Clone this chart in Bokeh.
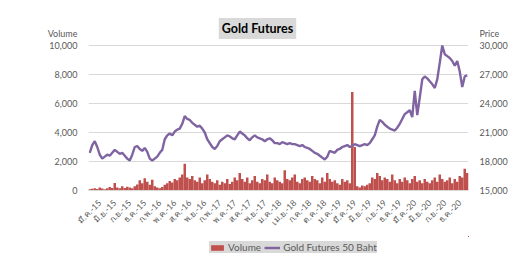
import math
from bokeh.plotting import figure
from bokeh.layouts import column
from bokeh.models import (Range1d, LinearAxis, FixedTicker, NumeralTickFormatter,
                          Legend, LegendItem, Label, ColumnDataSource)
from bokeh.embed import file_html
from bokeh.resources import INLINE

# ---------------- data ----------------
price = [
    18900, 19700, 20100, 19500, 18700, 18300, 18500, 18700, 18600, 18900,
    19200, 19000, 18800, 18900, 18600, 18300, 18100, 18700, 19500, 19600,
    19300, 19100, 19400, 19000, 18300, 18100, 18300, 18500, 18900, 19200,
    20300, 20700, 20900, 20700, 21100, 21300, 21400, 21900, 22700, 22400,
    22300, 22000, 21800, 21600, 21700, 21400, 21000, 20300, 19900, 19500,
    19300, 19600, 20100, 20300, 20500, 20700, 20600, 20400, 20300, 20700,
    21100, 20900, 20700, 20400, 20200, 20500, 20700, 20500, 20400, 20300,
    20100, 20300, 20400, 20200, 19900, 19900, 19800, 20000, 19900, 19800,
    19900, 19800, 19800, 19700, 19600, 19700, 19500, 19400, 19300, 19100,
    18900, 18800, 18600, 18400, 18200, 18500, 19100, 19000, 18900, 19200,
    19300, 19500, 19600, 19700, 19500, 19600, 19800, 19700, 19600, 19700,
    19800, 19700, 19900, 20300, 20700, 21600, 22300, 22100, 21800, 21600,
    21400, 21300, 21200, 21500, 21900, 22400, 22900, 23100, 23300, 22600,
    25300, 22800, 24600, 26500, 26800, 26600, 26300, 26000, 25600, 26500,
    28200, 30000, 29100, 28900, 28700, 28400, 27900, 28400, 27300, 25700,
    26800, 26900,
]
volume = [
    80, 120, 150, 100, 200, 130, 90, 160, 250, 180,
    520, 200, 150, 300, 180, 260, 200, 150, 300, 420,
    700, 500, 850, 600, 400, 750, 300, 200, 150, 250,
    400, 500, 650, 550, 800, 700, 900, 1100, 1850, 900,
    800, 1000, 700, 600, 900, 500, 700, 1100, 800, 600,
    500, 700, 400, 600, 500, 800, 450, 600, 900, 700,
    1200, 800, 600, 900, 500, 700, 1000, 600, 500, 800,
    700, 1100, 600, 500, 900, 700, 600, 500, 1400, 800,
    700, 900, 1100, 600, 500, 800, 900, 700, 600, 1000,
    800, 700, 500, 900, 600, 1200, 800, 600, 700, 500,
    400, 800, 600, 700, 500, 6800, 3000, 300, 200, 350,
    300, 400, 500, 900, 800, 1200, 1000, 700, 900, 800,
    600, 1100, 700, 500, 800, 600, 900, 700, 500, 800,
    1000, 600, 700, 500, 800, 600, 500, 700, 900, 600,
    1100, 800, 600, 700, 900, 500, 800, 600, 1000, 900,
    1500, 1200,
]
x_labels = [
    "มี.ค.-15", "มิ.ย.-15", "ก.ย.-15", "ธ.ค.-15", "ก.พ.-16", "พ.ค.-16",
    "ส.ค.-16", "พ.ย.-16", "ก.พ.-17", "พ.ค.-17", "ส.ค.-17", "พ.ย.-17",
    "ม.ค.-18", "เม.ย.-18", "ก.ค.-18", "ต.ค.-18", "ม.ค.-19", "มี.ค.-19",
    "มิ.ย.-19", "ก.ย.-19", "ธ.ค.-19", "มี.ค.-20", "มิ.ย.-20", "ก.ย.-20",
    "ธ.ค.-20",
]
label_every = 6
label_start = 4
vol_ticks = [0, 2000, 4000, 6000, 8000, 10000]
price_ticks = [15000, 18000, 21000, 24000, 27000, 30000]

# ---------------- layout constants ----------------
FONT = "Lato"
GREY = "#595959"
RED = "#C0504D"
PURPLE = "#8064A2"
FRAME_TOP = 15          # px from top of figure
FRAME_BOTTOM = 190      # px from top of figure
GRID_TOP_PX = 45        # where 10,000 sits
AXIS_TITLE_PX = 33      # where "Volume"/"Price" sit
FIG_H = 236
px_per_unit = (FRAME_BOTTOM - GRID_TOP_PX) / 10000.0
vol_top = (FRAME_BOTTOM - FRAME_TOP) / px_per_unit
vol_title_pos = (FRAME_BOTTOM - AXIS_TITLE_PX) / px_per_unit
price_scale = (price_ticks[-1] - price_ticks[0]) / 10000.0

# ---------------- figure ----------------
n = len(price)
idx = list(range(n))
src = ColumnDataSource(dict(x=idx, price=price, volume=volume))

p = figure(width=516, height=FIG_H, output_backend="svg", toolbar_location=None,
           x_range=Range1d(-0.5, n - 0.5), y_range=Range1d(0, vol_top),
           min_border_left=88, min_border_right=48, min_border_top=FRAME_TOP,
           min_border_bottom=FIG_H - FRAME_BOTTOM)
p.outline_line_color = None
p.background_fill_color = "white"
p.border_fill_color = "white"

p.extra_y_ranges = {"price": Range1d(price_ticks[0],
                                     price_ticks[0] + vol_top * price_scale)}

bars = p.vbar(x="x", top="volume", width=1.0, source=src,
              fill_color=RED, line_color=None)
line = p.line(x="x", y="price", source=src, y_range_name="price",
              line_color=PURPLE, line_width=2.4)

# left axis (with its title as a top tick label)
ya = p.yaxis[0]
ya.ticker = FixedTicker(ticks=vol_ticks + [vol_title_pos])
ya.formatter = NumeralTickFormatter(format="0,0")
ya.major_label_overrides = {vol_title_pos: "Volume"}
ya.axis_line_color = None
ya.major_tick_line_color = None
ya.minor_tick_line_color = None
ya.major_label_text_font = FONT
ya.major_label_text_font_size = "9px"
ya.major_label_text_color = GREY

# right axis
price_title_pos = price_ticks[0] + vol_title_pos * price_scale
ra = LinearAxis(y_range_name="price",
                ticker=FixedTicker(ticks=price_ticks + [price_title_pos]),
                formatter=NumeralTickFormatter(format="0,0"))
ra.major_label_overrides = {price_title_pos: "Price"}
ra.axis_line_color = None
ra.major_tick_line_color = None
ra.minor_tick_line_color = None
ra.major_label_text_font = FONT
ra.major_label_text_font_size = "9px"
ra.major_label_text_color = GREY
p.add_layout(ra, "right")

# x axis
tick_pos = [label_start + label_every * i for i in range(len(x_labels))]
xa = p.xaxis[0]
xa.ticker = FixedTicker(ticks=tick_pos)
xa.major_label_overrides = {t: lab for t, lab in zip(tick_pos, x_labels)}
xa.major_label_orientation = math.pi / 4
xa.axis_line_color = "#d9d9d9"
xa.major_tick_line_color = None
xa.minor_tick_line_color = None
xa.major_label_text_font = FONT
xa.major_label_text_font_size = "8.5px"
xa.major_label_text_color = GREY

p.xgrid.grid_line_color = None
p.ygrid.grid_line_color = "#d9d9d9"
p.ygrid.ticker = FixedTicker(ticks=vol_ticks)

# chart title (inside the frame, screen units relative to the frame)
p.add_layout(Label(x=169, y=FRAME_BOTTOM - 28, x_units="screen", y_units="screen",
                   text="Gold Futures", text_font=FONT, text_font_size="12.5px",
                   text_font_style="bold", text_color="black",
                   text_align="center", text_baseline="middle",
                   background_fill_color="#d9d9d9", padding=3))

# ---------------- legend strip ----------------
lg = figure(width=516, height=255 - FIG_H, output_backend="svg",
            toolbar_location=None,
            x_range=Range1d(-1000, -999), y_range=Range1d(-1000, -999),
            x_axis_location=None, y_axis_location=None,
            min_border_left=0, min_border_right=0, min_border_top=0,
            min_border_bottom=0)
lg.outline_line_color = None
lg.grid.visible = False
lg_bars = lg.vbar(x="x", top="volume", width=1.0, source=src,
                  fill_color=RED, line_color=None)
lg_line = lg.line(x="x", y="price", source=src, line_color=PURPLE, line_width=2.4)

legend = Legend(items=[LegendItem(label="Volume", renderers=[lg_bars]),
                       LegendItem(label="Gold Futures 50 Baht", renderers=[lg_line])],
                orientation="horizontal", location=(121, 2),
                background_fill_color="#d9d9d9", background_fill_alpha=1.0,
                border_line_color=None, label_text_font=FONT,
                label_text_font_size="10px", label_text_color=GREY,
                glyph_width=16, glyph_height=7, spacing=3, padding=3, margin=0,
                label_standoff=3, label_height=11)
lg.add_layout(legend)

layout = column(p, lg, spacing=0)
open("out.html", "w").write(file_html(layout, INLINE))
